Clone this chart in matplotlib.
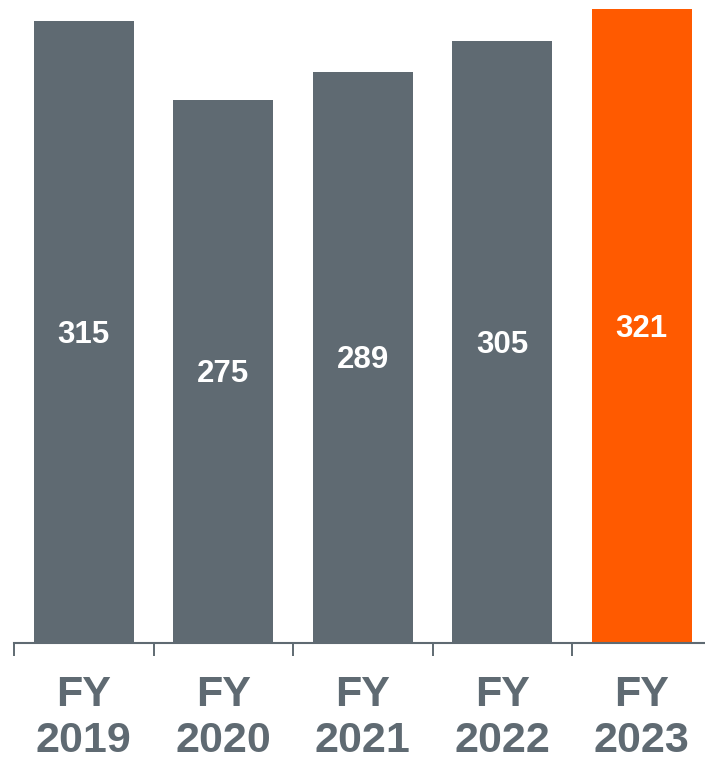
import matplotlib
matplotlib.use("Agg")
import matplotlib.pyplot as plt

categories = ["FY\n2019", "FY\n2020", "FY\n2021", "FY\n2022", "FY\n2023"]
values = [315, 275, 289, 305, 321]
bar_colors = ["#5f6a72", "#5f6a72", "#5f6a72", "#5f6a72", "#ff5a00"]

W, H = 705, 762
fig = plt.figure(figsize=(W / 100, H / 100), dpi=100)
plt.rcParams['font.family'] = ['Liberation Sans', 'DejaVu Sans']

gray = "#5f6a72"
# axes: x from 14px to 711.5px, baseline at y=643, top at y=9 (value 321)
ax = fig.add_axes([14 / W, (H - 643) / H, 697.5 / W, 634 / H])
x = list(range(len(categories)))
ax.bar(x, values, width=100 / 139.5, color=bar_colors, zorder=2)
ax.set_xlim(-0.5, len(categories) - 0.5)
ax.set_ylim(0, 321)

for xi, v in zip(x, values):
    ax.annotate(str(v), (xi, v / 2), xytext=(0, -2), textcoords="offset points",
                ha="center", va="center", color="white",
                fontsize=22.5, fontweight="bold", zorder=3)

for s in ["top", "right", "left"]:
    ax.spines[s].set_visible(False)
ax.spines["bottom"].set_color(gray)
ax.spines["bottom"].set_linewidth(1.5)
ax.set_yticks([])
ax.set_xticks([i - 0.5 for i in range(len(categories) + 1)])
ax.set_xticklabels([])
ax.set_xticks(x, minor=True)
ax.set_xticklabels(categories, minor=True, fontsize=31, fontweight="bold",
                   color=gray, linespacing=1.2)
ax.tick_params(axis="x", which="major", length=9.4, width=1.4, color=gray)
ax.tick_params(axis="x", which="minor", length=0, pad=23)

fig.savefig("out.png", dpi=100)
